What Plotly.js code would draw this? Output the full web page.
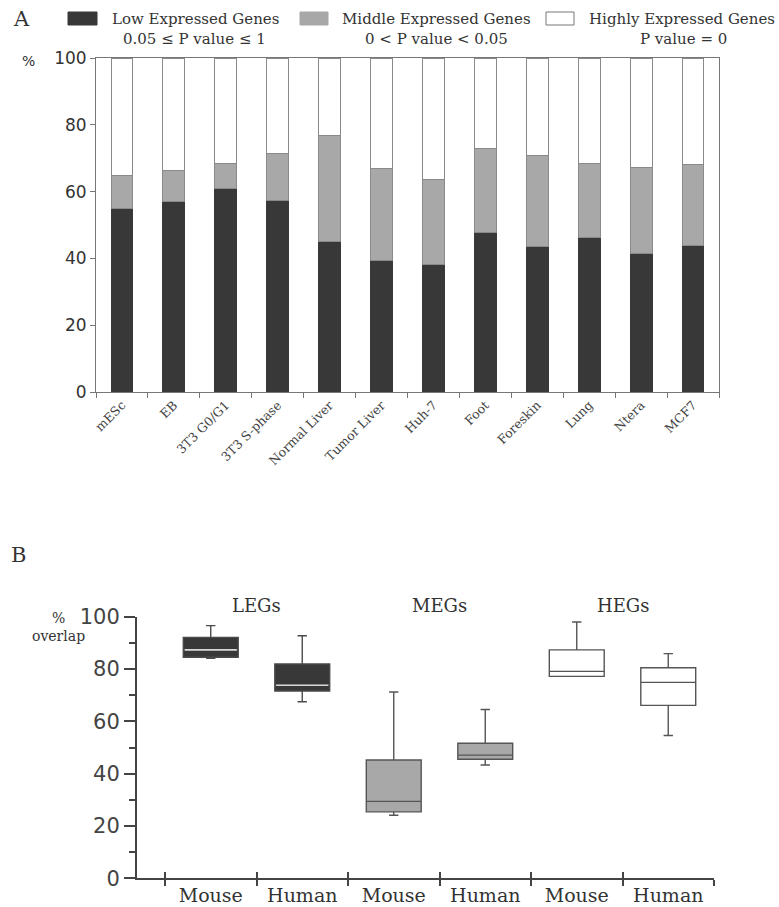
<!DOCTYPE html>
<html><head><meta charset="utf-8">
<script src="https://cdn.plot.ly/plotly-3.0.1.min.js"></script>
<style>html,body{margin:0;padding:0;background:#fff}</style>
</head><body><div id="chart" style="width:779px;height:907px"></div>
<script>
// ---- Panel A data ----
const samples = ["mESc","EB","3T3 G0/G1","3T3 S-phase","Normal Liver","Tumor Liver","Huh-7","Foot","Foreskin","Lung","Ntera","MCF7"];
const lowPct    = [55.0,56.9,60.9,57.2,45.0,39.3,38.1,47.7,43.7,46.4,41.5,44.0];
const middlePct = [9.9,9.3,7.6,14.3,31.9,27.5,25.4,25.3,27.2,22.1,25.7,24.0];
const highPct   = [35.1,33.8,31.5,28.5,23.1,33.2,36.5,27.0,29.1,31.5,32.8,32.0];
const seriesNames = ["Low Expressed Genes","Middle Expressed Genes","Highly Expressed Genes"];
const pValueLabels = ["0.05 \u2264 P value \u2264 1","0 < P value < 0.05","P value = 0"];
const yTicksA = [0,20,40,60,80,100];

// ---- Panel B data ----
const groupNames = ["LEGs","MEGs","HEGs"];
const speciesLabels = ["Mouse","Human","Mouse","Human","Mouse","Human"];
const boxLower  = [84.1,67.5,24.1,43.3,77.2,54.6];
const boxQ1     = [84.5,71.6,25.4,45.5,77.2,66.1];
const boxMedian = [87.3,73.8,29.4,47.1,79.1,74.9];
const boxQ3     = [92.1,81.9,45.2,51.6,87.3,80.5];
const boxUpper  = [96.6,92.7,71.2,64.5,98.0,85.9];
const yTicksB = [0,20,40,60,80,100];

const W = 779, H = 907;
const px = v => v / W, py = v => 1 - v / H;

const fillColors = ["#383838","#a8a8a8","#ffffff"];
const lineColors = ["#383838","#8a8a8a","#8a8a8a"];
const valuesA = [lowPct, middlePct, highPct];

const traces = [];
valuesA.forEach((vals, i) => {
  traces.push({
    type: "bar", x: samples, y: vals, name: seriesNames[i],
    xaxis: "x", yaxis: "y", width: 0.42,
    marker: {color: fillColors[i], line: {color: lineColors[i], width: 1}},
    showlegend: false, hoverinfo: "skip"
  });
});

const boxFill = ["#383838","#a8a8a8","#ffffff"];
const boxLine = ["#4a4a4a","#555555","#555555"];
groupNames.forEach((g, gi) => {
  const idx = [2*gi, 2*gi+1];
  traces.push({
    type: "box", name: g, xaxis: "x2", yaxis: "y2",
    x: idx,
    q1: idx.map(i => boxQ1[i]),
    median: idx.map(i => boxMedian[i]),
    q3: idx.map(i => boxQ3[i]),
    lowerfence: idx.map(i => boxLower[i]),
    upperfence: idx.map(i => boxUpper[i]),
    width: 0.6, whiskerwidth: 0.17,
    fillcolor: boxFill[gi],
    line: {color: boxLine[gi], width: 1.4},
    showlegend: false, hoverinfo: "skip"
  });
});
// dummy traces to register overlay axes
traces.push({type:"scatter", x:[null], y:[null], xaxis:"x3", yaxis:"y2", showlegend:false, hoverinfo:"skip"});
traces.push({type:"scatter", x:[null], y:[null], xaxis:"x4", yaxis:"y2", showlegend:false, hoverinfo:"skip"});

const nB = speciesLabels.length;
const boundaries = Array.from({length: nB + 1}, (_, i) => i - 0.5);
const centers = Array.from({length: nB}, (_, i) => i);
const rangeB = [-0.806, nB - 0.5];

const shapes = [];
// light median line for dark (LEG) boxes
[0,1].forEach(i => {
  shapes.push({type:"line", xref:"x2", yref:"y2", x0:i-0.285, x1:i+0.285,
    y0: boxMedian[i], y1: boxMedian[i], line:{color:"#d8d8d8", width:1.6}});
});
// legend swatches
const swatchX = [[68,97],[300,328],[546,574]];
swatchX.forEach((s, i) => {
  shapes.push({type:"rect", xref:"paper", yref:"paper", x0:px(s[0]), x1:px(s[1]),
    y0:py(25), y1:py(12), fillcolor: fillColors[i],
    line:{color: i === 2 ? "#777" : fillColors[i], width:1}});
});

const serif = "DejaVu Serif";
const sans = "DejaVu Sans";
const annotations = [
  {text:"A", xref:"paper", yref:"paper", x:px(11), y:py(19), xanchor:"left", yanchor:"middle", showarrow:false, font:{family:serif, size:21, color:"#333"}},
  {text:"B", xref:"paper", yref:"paper", x:px(9), y:py(555), xanchor:"left", yanchor:"middle", showarrow:false, font:{family:serif, size:21, color:"#333"}},
  {text:"%", xref:"paper", yref:"paper", x:px(28), y:py(61), xanchor:"center", yanchor:"middle", showarrow:false, font:{family:sans, size:14, color:"#333"}},
  {text:"%<br>overlap", xref:"paper", yref:"paper", x:px(58), y:py(627), xanchor:"center", yanchor:"middle", showarrow:false, font:{family:serif, size:14, color:"#333"}}
];
const legendTextX = [110, 340, 587];
const pLabelCenterX = [194, 436, 683];
seriesNames.forEach((n, i) => {
  annotations.push({text:n, xref:"paper", yref:"paper", x:px(legendTextX[i]), y:py(19), xanchor:"left", yanchor:"middle", showarrow:false, font:{family:serif, size:15, color:"#333"}});
  annotations.push({text:pValueLabels[i], xref:"paper", yref:"paper", x:px(pLabelCenterX[i]), y:py(39), xanchor:"center", yanchor:"middle", showarrow:false, font:{family:serif, size:15, color:"#333"}});
});
groupNames.forEach((g, gi) => {
  annotations.push({text:g, xref:"x2", yref:"paper", x:2*gi+0.5, y:py(605), xanchor:"center", yanchor:"middle", showarrow:false, font:{family:serif, size:18, color:"#333"}});
});

const layout = {
  width: W, height: H,
  margin: {l:0, r:0, t:0, b:0},
  paper_bgcolor: "#fff", plot_bgcolor: "rgba(0,0,0,0)",
  barmode: "stack",
  showlegend: false,
  xaxis: {
    domain: [px(96), px(719)], anchor: "y", type: "category",
    range: [-0.5, samples.length - 0.5],
    tickangle: -45, tickson: "boundaries", ticks: "outside", ticklen: 5, tickcolor: "#777",
    showline: true, linecolor: "#777", linewidth: 1, mirror: true,
    showgrid: false, zeroline: false,
    tickfont: {family: serif, size: 12.5, color: "#444"}
  },
  yaxis: {
    domain: [py(392), py(58)], anchor: "x",
    range: [0, 100], tickvals: yTicksA, ticks: "outside", ticklen: 5, tickcolor: "#777",
    showline: true, linecolor: "#777", linewidth: 1, mirror: true,
    showgrid: false, zeroline: false,
    tickfont: {family: sans, size: 17, color: "#333"}
  },
  xaxis2: {
    domain: [px(137), px(714)], anchor: "y2",
    range: rangeB, tickvals: boundaries, showticklabels: false,
    ticks: "outside", ticklen: 6, tickwidth: 2, tickcolor: "#444",
    showline: true, linecolor: "#444", linewidth: 2,
    showgrid: false, zeroline: false
  },
  xaxis3: {
    overlaying: "x2", anchor: "y2", range: rangeB, tickvals: boundaries, showticklabels: false,
    ticks: "inside", ticklen: 6, tickwidth: 2, tickcolor: "#444",
    showline: false, showgrid: false, zeroline: false
  },
  xaxis4: {
    overlaying: "x2", anchor: "y2", range: rangeB, tickvals: centers, ticktext: speciesLabels,
    ticks: "", ticklabelstandoff: 4, showline: false, showgrid: false, zeroline: false,
    tickfont: {family: serif, size: 19, color: "#333"}
  },
  yaxis2: {
    domain: [py(878.3), py(616.7)], anchor: "x2",
    range: [0, 100], tickvals: yTicksB,
    ticks: "outside", ticklen: 11, tickwidth: 2, tickcolor: "#444",
    minor: {ticks: "outside", ticklen: 6, tickwidth: 2, tickcolor: "#444", dtick: 10, showgrid: false},
    showline: true, linecolor: "#444", linewidth: 2,
    showgrid: false, zeroline: false,
    tickfont: {family: sans, size: 21, color: "#444"}
  },
  shapes: shapes,
  annotations: annotations
};

Plotly.newPlot("chart", traces, layout, {staticPlot: true, displayModeBar: false});
</script>
</body></html>
